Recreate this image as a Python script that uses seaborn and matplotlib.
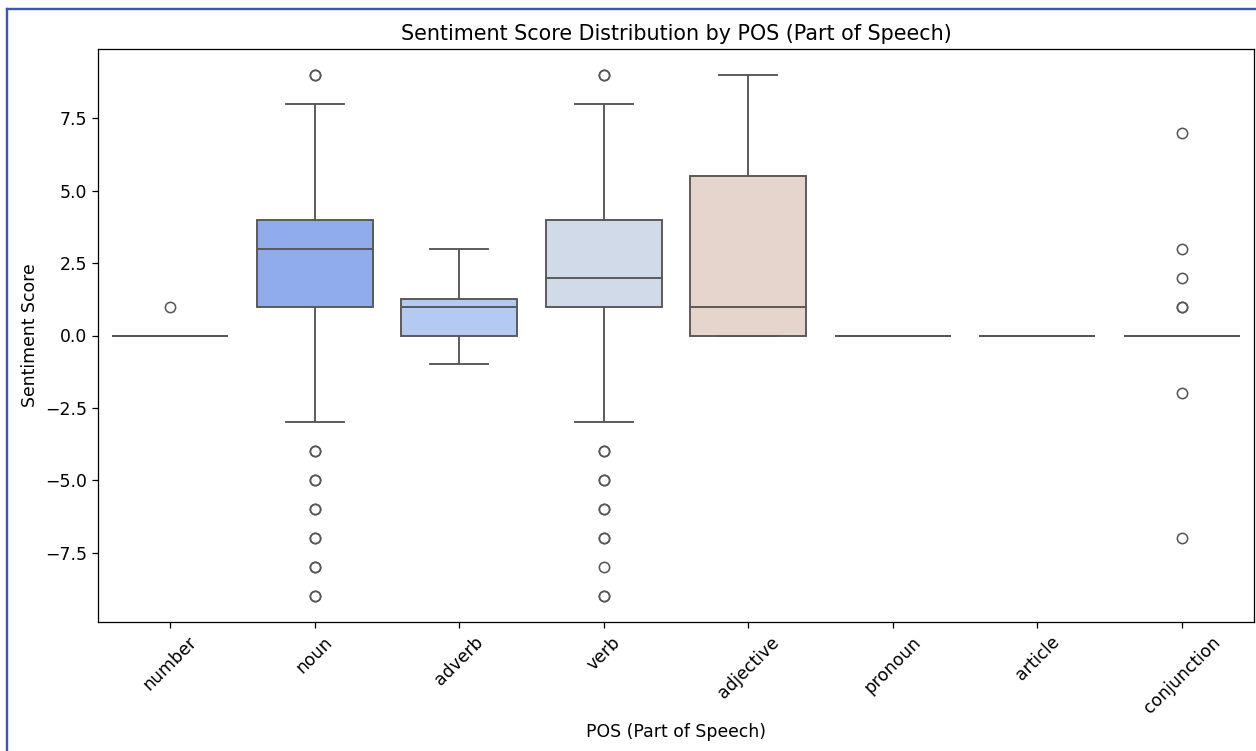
import numpy as np
import pandas as pd
import matplotlib
matplotlib.use("Agg")
import matplotlib.pyplot as plt
from matplotlib.lines import Line2D
import seaborn as sns

# Categories (order on the x axis)
pos_categories = ["number", "noun", "adverb", "verb", "adjective", "pronoun", "article", "conjunction"]

# Sentiment score values and how often each occurs, per POS
number_vals = [0, 1]
number_counts = [20, 1]

noun_vals = [-9, -8, -7, -6, -5, -4, -3, -2, -1, 0, 1, 2, 3, 4, 5, 6, 7, 8, 9]
noun_counts = [2, 2, 2, 2, 2, 2, 1, 2, 2, 5, 10, 10, 15, 20, 6, 6, 5, 5, 2]

adverb_vals = [-1, 0, 1, 2, 3]
adverb_counts = [1, 2, 3, 1, 1]

verb_vals = [-9, -8, -7, -6, -5, -4, -3, -2, -1, 0, 1, 2, 3, 4, 5, 6, 7, 8, 9]
verb_counts = [2, 1, 2, 2, 2, 2, 1, 2, 2, 5, 15, 20, 10, 15, 5, 5, 4, 4, 2]

adjective_vals = [0, 1, 3, 5, 6, 8, 9]
adjective_counts = [4, 2, 1, 1, 1, 1, 1]

pronoun_vals = [0]
pronoun_counts = [25]

article_vals = [0]
article_counts = [25]

conjunction_vals = [-7, -2, 0, 1, 2, 3, 7]
conjunction_counts = [1, 1, 40, 2, 1, 1, 1]

title_text = "Sentiment Score Distribution by POS (Part of Speech)"
x_label = "POS (Part of Speech)"
y_label = "Sentiment Score"

groups = {
    "number": (number_vals, number_counts),
    "noun": (noun_vals, noun_counts),
    "adverb": (adverb_vals, adverb_counts),
    "verb": (verb_vals, verb_counts),
    "adjective": (adjective_vals, adjective_counts),
    "pronoun": (pronoun_vals, pronoun_counts),
    "article": (article_vals, article_counts),
    "conjunction": (conjunction_vals, conjunction_counts),
}

rows = []
for cat in pos_categories:
    vals, cnts = groups[cat]
    for v in np.repeat(vals, cnts):
        rows.append({"POS": cat, "Sentiment Score": float(v)})
df = pd.DataFrame(rows)

DPI = 114
fig = plt.figure(figsize=(1256 / DPI, 751 / DPI), dpi=DPI)
ax = fig.add_axes([98 / 1256, 1 - 622 / 751, (1254 - 98) / 1256, (622 - 49) / 751])

sns.boxplot(data=df, x="POS", y="Sentiment Score", hue="POS", order=pos_categories,
            hue_order=pos_categories, palette="coolwarm", legend=False, ax=ax,
            linewidth=1.2, fliersize=6.5)

ax.set_title(title_text, fontsize=13.0)
ax.set_xlabel(x_label, fontsize=10.9)
ax.set_ylabel(y_label, fontsize=10.9)
ax.tick_params(axis="both", labelsize=10.9)
ax.tick_params(axis="x", labelrotation=45)

# screenshot frame (blue lines at top and left)
fw, fh = 1256, 751
border_color = "#3d56b2"
fig.add_artist(Line2D([6.5 / fw, 1.0], [1 - 8.5 / fh, 1 - 8.5 / fh], transform=fig.transFigure,
                      color=border_color, linewidth=1.5))
fig.add_artist(Line2D([6.5 / fw, 6.5 / fw], [0.0, 1 - 8.5 / fh], transform=fig.transFigure,
                      color=border_color, linewidth=1.5))

fig.savefig("out.png", dpi=DPI)
